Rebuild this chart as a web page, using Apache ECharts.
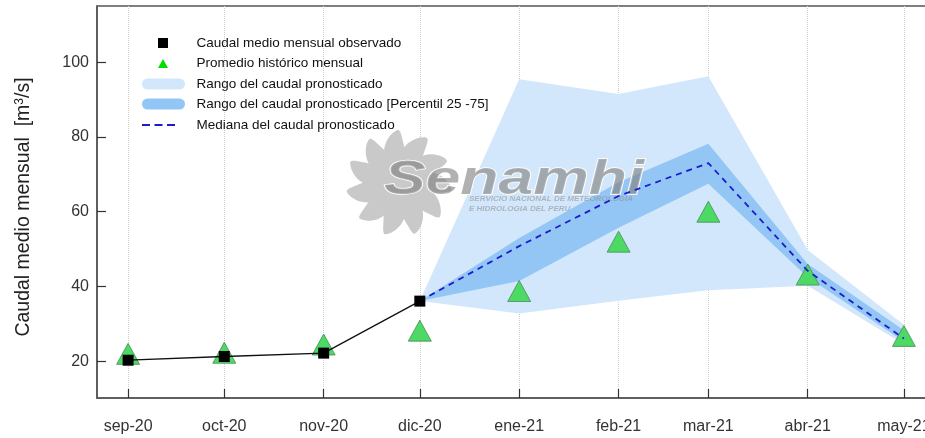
<!DOCTYPE html>
<html>
<head>
<meta charset="utf-8">
<script src="https://cdn.jsdelivr.net/npm/echarts@6/dist/echarts.min.js"></script>
<style>
  html, body { margin: 0; padding: 0; background: #fff; overflow: hidden; }
  #chart { width: 935px; height: 438px; }
</style>
</head>
<body>
<div id="chart"></div>
<script>
// months on the x axis (positioned by date, so spacing follows days per month)
const months = ['2020-09-01', '2020-10-01', '2020-11-01', '2020-12-01', '2021-01-01',
                '2021-02-01', '2021-03-01', '2021-04-01', '2021-05-01'];
const monthLabels = ['sep-20', 'oct-20', 'nov-20', 'dic-20', 'ene-21', 'feb-21', 'mar-21', 'abr-21', 'may-21'];
const yTicks = [20, 40, 60, 80, 100];

// observed monthly flow (sep-20 .. dic-20)
const observado = [20.3, 21.3, 22.2, 36.1];
// historical monthly mean (sep-20 .. may-21)
const promedio = [22.0, 22.3, 24.5, 28.2, 38.8, 52.0, 60.0, 43.2, 26.8];

// forecast (dic-20 .. may-21)
const fcMonths = months.slice(3);
const rangoMin = [36.1, 32.8, 36.2, 39.0, 40.2, 24.6];
const rangoMax = [36.1, 95.4, 91.5, 96.2, 49.8, 29.8];
const p25 = [36.1, 41.5, 55.7, 67.5, 42.5, 25.3];
const p75 = [36.1, 53.0, 67.9, 78.2, 46.0, 28.3];
const mediana = [36.1, 50.8, 64.2, 73.0, 44.2, 26.1];

const DAY = 864e5;
const ts = s => Date.UTC(+s.slice(0, 4), +s.slice(5, 7) - 1, +s.slice(8, 10));
const monthTs = months.map(ts);
const fcTs = fcMonths.map(ts);
const pairs = (xs, ys) => ys.map((v, i) => [xs[i], v]);

const FONT = "'Liberation Sans', Arial, sans-serif";
const LIGHT = '#d2e7fb';
const DARK = '#94c6f5';
const BLUE = '#1c1ccf';

const chart = echarts.init(document.getElementById('chart'));

const legendText = (pad) => ({ fontFamily: FONT, fontSize: 13.5, color: '#111', lineHeight: 16, padding: [0, 0, 0, pad] });
const pill = 'path://M5.5,0L37.5,0A5.5,5.5,0,0,1,37.5,11L5.5,11A5.5,5.5,0,0,1,5.5,0Z';

// band between two arrays, drawn as one polygon through the axis scales
const band = (lo, hi, color) => (params, api) => {
  const top = fcTs.map((x, i) => api.coord([x, hi[i]]));
  const bottom = fcTs.map((x, i) => api.coord([x, lo[i]])).reverse();
  return { type: 'polygon', shape: { points: top.concat(bottom) }, style: { fill: color } };
};

// watermark (sun logo + text), drawn above the bands and below the lines
const WZ = 2;
const watermark = [{ type: 'circle', z: WZ, silent: true, shape: { cx: 399, cy: 183, r: 33 }, style: { fill: '#c9c9c9' } }];
for (let k = 0; k < 11; k++) {
  const a = k * 2 * Math.PI / 11;
  const p = (r, d) => [399 + r * Math.cos(a + d), 183 + r * Math.sin(a + d)];
  watermark.push({
    type: 'polygon', z: WZ, silent: true,
    shape: { points: [p(28, -0.32), p(42, -0.18), p(53, 0.12), p(44, 0.22), p(28, 0.3)], smooth: 0.4 },
    style: { fill: '#c9c9c9' }
  });
}
watermark.push(
  {
    type: 'text', z: WZ, silent: true, x: 384, y: 157, scaleX: 1.3, originX: 0, originY: 0,
    style: { text: 'Senamhi', font: 'italic bold 48px ' + FONT, fill: 'rgba(125,125,125,0.6)', stroke: '#fff', lineWidth: 1.5, textVerticalAlign: 'top' }
  },
  {
    type: 'text', z: WZ, silent: true, x: 469, y: 195,
    style: { text: 'SERVICIO NACIONAL DE METEOROLOGIA', font: 'italic bold 8px ' + FONT, fill: 'rgba(140,140,140,0.55)', textVerticalAlign: 'top' }
  },
  {
    type: 'text', z: WZ, silent: true, x: 469, y: 205,
    style: { text: 'E HIDROLOGIA DEL PERU', font: 'italic bold 8px ' + FONT, fill: 'rgba(140,140,140,0.55)', textVerticalAlign: 'top' }
  }
);

chart.setOption({
  animation: false,
  backgroundColor: '#fff',
  grid: {
    left: 97, top: 6, right: 0, bottom: 40,
    show: true, borderColor: '#555', borderWidth: 1.5
  },
  legend: [
    {
      orient: 'vertical', left: 153, top: 30, itemWidth: 10, itemHeight: 10, itemGap: 4.5,
      selectedMode: false, textStyle: legendText(23.5),
      data: [
        { name: 'Caudal medio mensual observado', icon: 'path://M0,0L10,0L10,10L0,10Z', itemStyle: { color: '#000' } },
        { name: 'Promedio histórico mensual', icon: 'path://M5.5,0L11,10L0,10Z', itemStyle: { color: '#00dd00', borderWidth: 0 } }
      ]
    },
    {
      orient: 'vertical', left: 137, top: 71, itemWidth: 43, itemHeight: 11, itemGap: 4,
      selectedMode: false, textStyle: legendText(6.5),
      data: [
        { name: 'Rango del caudal pronosticado', icon: pill, itemStyle: { color: LIGHT } },
        { name: 'Rango del caudal pronosticado [Percentil 25 -75]', icon: pill, itemStyle: { color: DARK } }
      ]
    },
    {
      orient: 'vertical', left: 137, top: 112, itemWidth: 33, itemHeight: 2,
      selectedMode: false, textStyle: legendText(16.5),
      data: [
        { name: 'Mediana del caudal pronosticado', icon: 'path://M0,0h8v2h-8zM12.5,0h8v2h-8zM25,0h8v2h-8z', itemStyle: { color: BLUE } }
      ]
    }
  ],
  xAxis: {
    type: 'value',
    min: monthTs[0] - 9.7 * DAY,
    max: monthTs[monthTs.length - 1] + 9.7 * DAY,
    axisLine: { show: true, lineStyle: { color: '#555', width: 1.5 } },
    axisTick: { show: true, inside: true, length: 9, customValues: monthTs, lineStyle: { color: '#333', width: 1.2 } },
    axisLabel: {
      customValues: monthTs, margin: 21, fontFamily: FONT, fontSize: 16, color: '#333',
      formatter: v => {
        const i = monthTs.findIndex(m => Math.abs(m - v) < DAY / 2);
        return i < 0 ? '' : monthLabels[i];
      }
    },
    splitLine: { show: true, lineStyle: { color: '#cfcfcf', type: 'dotted', width: 1 } }
  },
  yAxis: {
    type: 'value',
    min: 10.2, max: 115,
    name: '{a|Caudal medio mensual  [m}{s|3}{a|/s]}',
    nameLocation: 'middle',
    nameGap: 63,
    nameTextStyle: {
      padding: [0, 10, 0, 0],
      rich: {
        a: { fontFamily: FONT, fontSize: 19.5, color: '#222' },
        s: { fontFamily: FONT, fontSize: 12, color: '#222', verticalAlign: 'top' }
      }
    },
    axisLine: { show: true, lineStyle: { color: '#555', width: 1.5 } },
    axisTick: { show: true, inside: true, length: 9, customValues: yTicks, lineStyle: { color: '#333', width: 1.2 } },
    axisLabel: { customValues: yTicks, margin: 8, fontFamily: FONT, fontSize: 16, color: '#333' },
    splitLine: { show: false }
  },
  graphic: { elements: watermark },
  series: [
    {
      name: 'Rango del caudal pronosticado', type: 'custom', z: 1, silent: true,
      data: [[fcTs[0], rangoMin[0]]], itemStyle: { color: LIGHT },
      renderItem: band(rangoMin, rangoMax, LIGHT)
    },
    {
      name: 'Rango del caudal pronosticado [Percentil 25 -75]', type: 'custom', z: 1, silent: true,
      data: [[fcTs[0], p25[0]]], itemStyle: { color: DARK },
      renderItem: band(p25, p75, DARK)
    },
    {
      name: 'Promedio histórico mensual', type: 'scatter', z: 3,
      data: pairs(monthTs, promedio), symbol: 'triangle', symbolSize: [23, 21],
      itemStyle: { color: '#4cd964', borderColor: '#4a8a5a', borderWidth: 0.8, opacity: 1 }
    },
    {
      name: 'Mediana del caudal pronosticado', type: 'line', z: 4,
      data: pairs(fcTs, mediana), symbol: 'none', color: BLUE,
      lineStyle: { color: BLUE, width: 1.8, type: [6, 5] }
    },
    {
      name: 'obs-linea', type: 'line', z: 4,
      data: pairs(monthTs, observado), symbol: 'none',
      lineStyle: { color: '#111', width: 1.3 }
    },
    {
      name: 'Caudal medio mensual observado', type: 'scatter', z: 5,
      data: pairs(monthTs, observado), symbol: 'rect', symbolSize: 11,
      itemStyle: { color: '#000', opacity: 1 }
    }
  ]
});
</script>
</body>
</html>
